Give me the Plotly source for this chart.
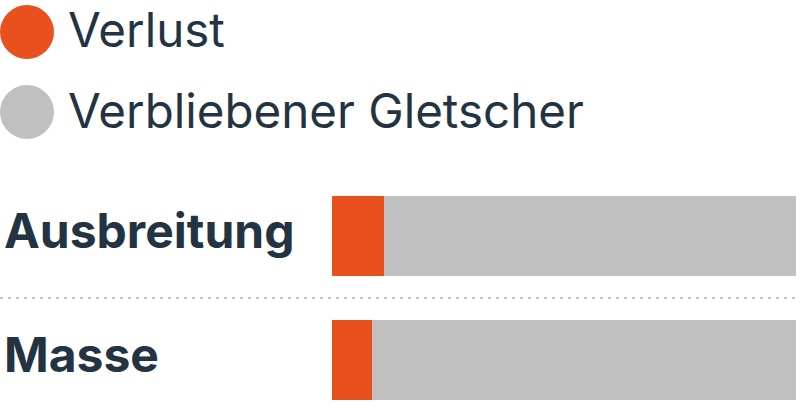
import plotly.graph_objects as go

categories = ["Ausbreitung", "Masse"]
verlust = [11.2, 8.6]
verbleibend = [88.8, 91.4]
series_names = ["Verlust", "Verbliebener Gletscher"]
colors = ["#E8501E", "#C0C0C0"]

W, H = 800, 412
TXT = "#243342"
FONT = "Inter"

fig = go.Figure()
for name, vals, col in zip(series_names, [verlust, verbleibend], colors):
    fig.add_trace(go.Bar(
        y=categories, x=vals, name=name, orientation="h",
        marker=dict(color=col, line=dict(width=0)), width=80 / 124,
        hoverinfo="skip", showlegend=False,
    ))

# y mapping: category 0 at pixel 236, category 1 at pixel 360
px_per = 124.0
top = 0 - 236 / px_per
bottom = 1 + (H - 360) / px_per

shapes = []
annotations = []
# legend
leg_y = [32, 112]
for name, col, cy in zip(series_names, colors, leg_y):
    r = 27
    shapes.append(dict(type="circle", xref="paper", yref="paper",
                       x0=0 / W, x1=(2 * r) / W,
                       y0=1 - (cy - r) / H, y1=1 - (cy + r) / H,
                       fillcolor=col, line=dict(width=0)))
    annotations.append(dict(text=name, xref="paper", yref="paper",
                            x=66 / W, y=1 - (cy - 2) / H, xanchor="left", yanchor="middle",
                            showarrow=False, font=dict(family=FONT, size=47.5, color=TXT)))

# category labels
for i, c in enumerate(categories):
    annotations.append(dict(text=f"<b>{c}</b>", xref="paper", yref="y",
                            x=2 / W, y=c, yshift=6, xanchor="left", yanchor="middle",
                            showarrow=False, font=dict(family=FONT, size=48, color=TXT)))

# dotted separator
shapes.append(dict(type="line", xref="paper", yref="y", x0=0, x1=796 / W,
                   y0=0.5, y1=0.5, line=dict(color="#C8C8C8", width=2, dash="3px,5px")))

fig.update_layout(
    width=W, height=H, barmode="stack",
    margin=dict(l=0, r=0, t=0, b=0),
    paper_bgcolor="white", plot_bgcolor="white",
    xaxis=dict(domain=[332 / W, 796 / W], range=[0, 100], visible=False, fixedrange=True),
    yaxis=dict(domain=[0, 1], type="category", categoryorder="array", categoryarray=categories,
               range=[bottom, top], visible=False, fixedrange=True),
    shapes=shapes, annotations=annotations, showlegend=False,
)
fig.write_html("out.html", config={"displayModeBar": False})
